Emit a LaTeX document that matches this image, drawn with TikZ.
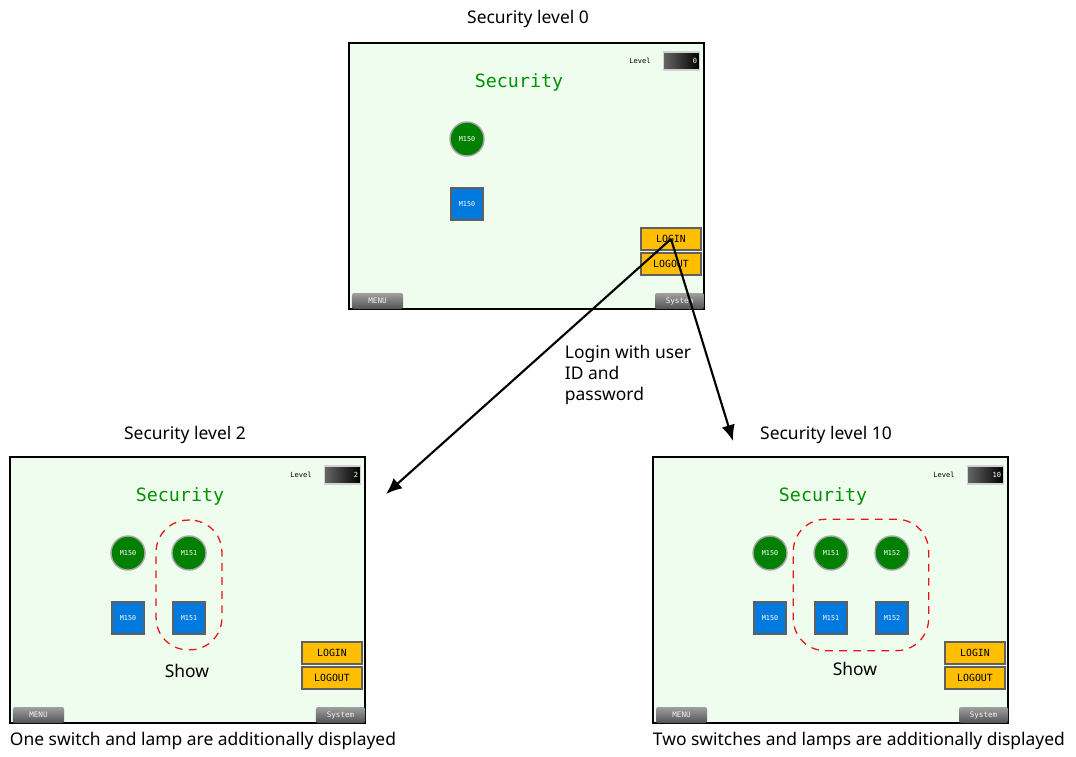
\documentclass[tikz,border=0pt]{standalone}
\usepackage{fontspec}
\setmainfont{Noto Sans}
\setmonofont{DejaVu Sans Mono}
\usepackage{tikz}
\usetikzlibrary{arrows.meta,positioning,fit}

\definecolor{hmibg}{RGB}{238,253,238}
\definecolor{lampgreen}{RGB}{0,128,0}
\definecolor{swblue}{RGB}{0,122,222}
\definecolor{btnyellow}{RGB}{255,190,0}
\definecolor{titlegreen}{RGB}{0,145,0}
\definecolor{showred}{RGB}{235,20,20}

% one operator screen: prefix, origin, level value
\newcommand{\hmiscreen}[3]{%
  \begin{scope}[shift={#2}]
    \draw[screen] (0,0) rectangle (355,266);
    \node[title] (#1title) at (170,39) {Security};
    \node[lvltxt] (#1lvl) at (291,18) {Level};
    \node[lvlbox] (#1lvlbox) at (332.5,18) {#3};
    \node[btn] (#1login) at (322,196) {LOGIN};
    \node[btn] (#1logout) at (322,221) {LOGOUT};
    \node[menubtn, minimum width=1.275cm] (#1menu) at (28.5,258) {MENU};
    \node[menubtn, minimum width=1.225cm] (#1sys) at (330.5,258) {System};
  \end{scope}}

\begin{document}
\begin{tikzpicture}[x=0.025cm, y=-0.025cm,
  screen/.style={draw, line width=1.3pt, fill=hmibg},
  title/.style={text=titlegreen, font=\fontsize{13}{14}\selectfont\ttfamily},
  lvltxt/.style={font=\fontsize{5}{6}\selectfont\ttfamily, inner sep=0pt},
  lvlbox/.style={draw=gray!35, line width=0.9pt, left color=black!60, right color=black,
    text=white, font=\fontsize{5}{6}\selectfont\ttfamily, text width=0.78cm, align=right,
    minimum height=0.45cm, inner xsep=1.5pt, inner ysep=0pt},
  btn/.style={draw=gray!75!black, line width=1.1pt, fill=btnyellow, minimum width=1.5cm,
    minimum height=0.56cm, inner sep=0pt, font=\fontsize{7}{8}\selectfont\ttfamily},
  menubtn/.style={rounded corners=1.5pt, top color=gray!75, bottom color=gray!65!black,
    minimum height=0.4cm, inner sep=0pt, text=gray!10, font=\fontsize{5.4}{6}\selectfont\ttfamily},
  lamp/.style={circle, draw=gray!70, line width=1pt, fill=lampgreen, minimum size=0.85cm,
    inner sep=0pt, text=white, font=\fontsize{4.8}{5}\selectfont\ttfamily},
  swbox/.style={draw=gray!75!black, line width=0.9pt, fill=swblue, minimum size=0.8cm,
    inner sep=0pt, text=white, font=\fontsize{4.8}{5}\selectfont\ttfamily},
  zone/.style={draw=showred, dash pattern=on 5.5pt off 4.5pt, line width=0.9pt,
    rounded corners=0.8cm},
  caption/.style={font=\fontsize{12.4}{15}\selectfont},
  arr/.style={-{Latex[length=4mm, width=3.4mm]}, line width=1.5pt}
]
\useasboundingbox (0,0) rectangle (1076,756);

% level 0
\node[caption] (cap0) at (528,19) {Security level 0};
\hmiscreen{top}{(349,43)}{0}
\node[lamp] (toplampa) at (467,139) {M150};
\node[swbox] (topswa) at (467,204) {M150};

% level 2
\node[caption] (cap2) at (185,435) {Security level 2};
\hmiscreen{lft}{(10,457)}{2}
\node[lamp] (lftlampa) at (128,553) {M150};
\node[lamp] (lftlampb) at (189,553) {M151};
\node[swbox] (lftswa) at (128,618) {M150};
\node[swbox] (lftswb) at (189,618) {M151};
\node[zone, inner sep=0.38cm, fit=(lftlampb)(lftswb)] (lftzone) {};
\node[caption] (lftshow) at (187,671) {Show};
\node[caption, anchor=west] (lftnote) at (5,741) {One switch and lamp are additionally displayed};

% level 10
\node[caption] (cap10) at (826,435) {Security level 10};
\hmiscreen{rgt}{(653,457)}{10}
\node[lamp] (rgtlampa) at (770,553) {M150};
\node[lamp] (rgtlampb) at (831,553) {M151};
\node[lamp] (rgtlampc) at (892,553) {M152};
\node[swbox] (rgtswa) at (770,618) {M150};
\node[swbox] (rgtswb) at (831,618) {M151};
\node[swbox] (rgtswc) at (892,618) {M152};
\node[zone, inner xsep=0.5cm, inner ysep=0.4cm, fit=(rgtlampb)(rgtswc)] (rgtzone) {};
\node[caption] (rgtshow) at (855,669) {Show};
\node[caption, anchor=west] (rgtnote) at (648,741) {Two switches and lamps are additionally displayed};

% login transitions
\coordinate (lftin) at (386,494);
\coordinate (rgtin) at (733,441);
\node[caption, anchor=north west, align=left] (logintxt) at (560,340) {Login with user\\ID and\\password};
\draw[arr] (toplogin.center) -- (lftin);
\draw[arr] (toplogin.center) -- (rgtin);
\end{tikzpicture}
\end{document}
